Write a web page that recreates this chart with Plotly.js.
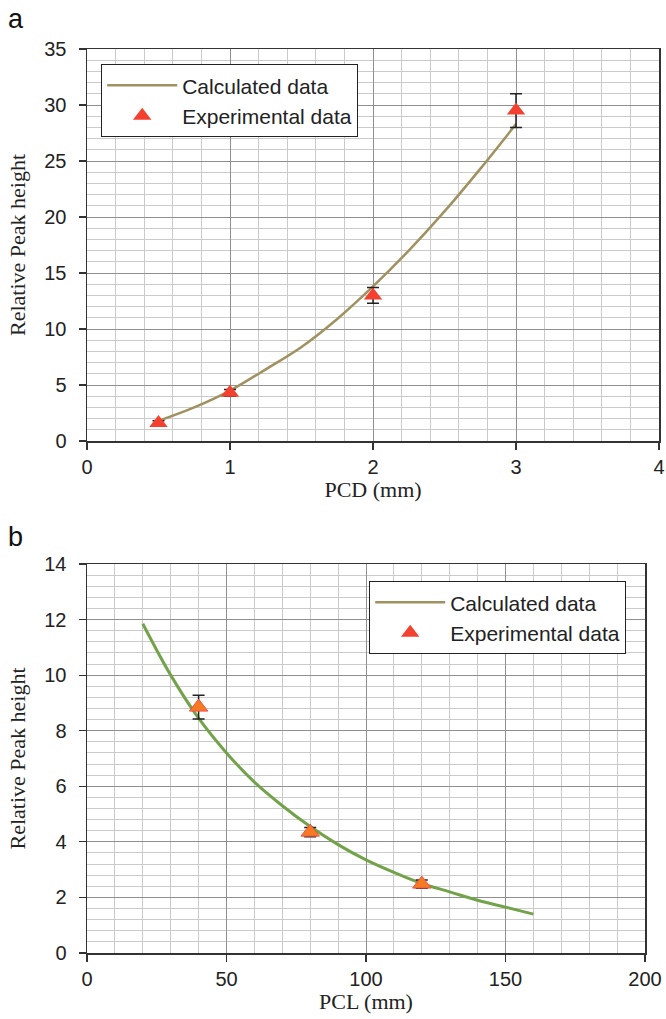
<!DOCTYPE html>
<html><head><meta charset="utf-8">
<script src="https://cdn.plot.ly/plotly-3.0.1.min.js"></script>
<style>html,body{margin:0;padding:0;background:#fff;}#chart{width:666px;height:1019px;}</style>
</head><body><div id="chart"></div>
<script>
// Panel a: PCD
const pcdCalcX = [0.5, 0.75, 1, 1.25, 1.5, 1.75, 2, 2.25, 2.5, 2.75, 3];
const pcdCalcY = [1.8, 3.0, 4.5, 6.4, 8.4, 10.9, 13.8, 17.0, 20.5, 24.3, 28.3];
const pcdExpX = [0.5, 1, 2, 3];
const pcdExpY = [1.6, 4.3, 13.0, 29.5];
const pcdExpErr = [0.2, 0.3, 0.7, 1.5];
// Panel b: PCL
const pclCalcX = [20, 30, 40, 50, 60, 70, 80, 90, 100, 110, 120, 130, 140, 150, 160];
const pclCalcY = [11.85, 10.0, 8.45, 7.2, 6.15, 5.3, 4.55, 3.9, 3.35, 2.9, 2.5, 2.2, 1.9, 1.65, 1.4];
const pclExpX = [40, 80, 120];
const pclExpY = [8.85, 4.35, 2.48];
const pclExpErr = [0.43, 0.17, 0.15];

const W = 666, H = 1019;
const px = v => v / W, py = v => 1 - v / H;
const tan = '#A0915F', red = '#F4412F', green = '#72A34A', orange = '#F57A22';
const tickFont = {family: 'Liberation Sans, Arial, sans-serif', size: 20, color: '#222'};
const legFont = {family: 'Liberation Sans, Arial, sans-serif', size: 21, color: '#222'};
const titleFont = {family: 'Liberation Serif, Times New Roman, serif', size: 22, color: '#222'};

const traces = [
  {x: pcdCalcX, y: pcdCalcY, type: 'scatter', mode: 'lines', line: {color: tan, width: 2.5, shape: 'spline'},
   name: 'Calculated data', xaxis: 'x', yaxis: 'y', legend: 'legend'},
  {x: pcdExpX, y: pcdExpY, type: 'scatter', mode: 'markers', name: 'Experimental data',
   marker: {symbol: 'triangle-up', size: 16, color: red},
   error_y: {type: 'data', array: pcdExpErr, color: '#222', thickness: 1.5, width: 6},
   xaxis: 'x', yaxis: 'y', legend: 'legend'},
  {x: pclCalcX, y: pclCalcY, type: 'scatter', mode: 'lines', line: {color: green, width: 3, shape: 'spline'},
   showlegend: false, xaxis: 'x2', yaxis: 'y2'},
  {x: pclExpX, y: pclExpY, type: 'scatter', mode: 'markers', showlegend: false,
   marker: {symbol: 'triangle-up', size: 16, color: orange, line: {color: '#F0504A', width: 1}},
   error_y: {type: 'data', array: pclExpErr, color: '#222', thickness: 1.5, width: 6},
   xaxis: 'x2', yaxis: 'y2'},
  {x: [null], y: [null], type: 'scatter', mode: 'lines', line: {color: tan, width: 2.5},
   name: 'Calculated data', xaxis: 'x2', yaxis: 'y2', legend: 'legend2'},
  {x: [null], y: [null], type: 'scatter', mode: 'markers', marker: {symbol: 'triangle-up', size: 16, color: red},
   name: 'Experimental data', xaxis: 'x2', yaxis: 'y2', legend: 'legend2'}
];

function ax(extra) {
  return Object.assign({
    showline: true, linecolor: '#333', linewidth: 1.5, mirror: true,
    ticks: 'outside', ticklen: 7, tickcolor: '#333', tickwidth: 1.2,
    showgrid: true, gridcolor: '#8f8f8f', gridwidth: 1,
    zeroline: false, tickfont: tickFont, fixedrange: true
  }, extra);
}
const minorGrid = d => ({dtick: d, showgrid: true, gridcolor: '#cbcbcb', gridwidth: 1});

const layout = {
  width: W, height: H, margin: {l: 0, r: 0, t: 0, b: 0},
  paper_bgcolor: '#fff', plot_bgcolor: '#fff',
  xaxis: ax({domain: [px(87), px(659)], range: [0, 4], dtick: 1, anchor: 'y',
    minor: minorGrid(0.2),
    title: {text: 'PCD (mm)', font: titleFont, standoff: 5}}),
  yaxis: ax({domain: [py(441), py(49)], range: [0, 35], dtick: 5, anchor: 'x',
    minor: minorGrid(1), ticklabelstandoff: 8,
    title: {text: 'Relative Peak height', font: titleFont, standoff: 12}}),
  xaxis2: ax({domain: [px(87), px(645)], range: [0, 200], dtick: 50, anchor: 'y2',
    minor: minorGrid(10),
    title: {text: 'PCL (mm)', font: titleFont, standoff: 5}}),
  yaxis2: ax({domain: [py(953), py(564)], range: [0, 14], dtick: 2, anchor: 'x2',
    minor: minorGrid(0.4), ticklabelstandoff: 8,
    title: {text: 'Relative Peak height', font: titleFont, standoff: 12}}),
  legend: {x: px(101), y: py(64), xanchor: 'left', yanchor: 'top', bgcolor: '#fff',
    bordercolor: '#222', borderwidth: 1.2, font: legFont, tracegroupgap: 0, itemwidth: 70},
  legend2: {x: px(369), y: py(581), xanchor: 'left', yanchor: 'top', bgcolor: '#fff',
    bordercolor: '#222', borderwidth: 1.2, font: legFont, tracegroupgap: 0, itemwidth: 70},
  annotations: [
    {text: 'a', x: px(6), y: py(2), xref: 'paper', yref: 'paper', xanchor: 'left', yanchor: 'top',
     showarrow: false, font: {family: 'Liberation Sans, Arial, sans-serif', size: 27, color: '#111'}},
    {text: 'b', x: px(6), y: py(520), xref: 'paper', yref: 'paper', xanchor: 'left', yanchor: 'top',
     showarrow: false, font: {family: 'Liberation Sans, Arial, sans-serif', size: 27, color: '#111'}}
  ],
  showlegend: true
};

Plotly.newPlot('chart', traces, layout, {displayModeBar: false, staticPlot: true});
</script></body></html>
